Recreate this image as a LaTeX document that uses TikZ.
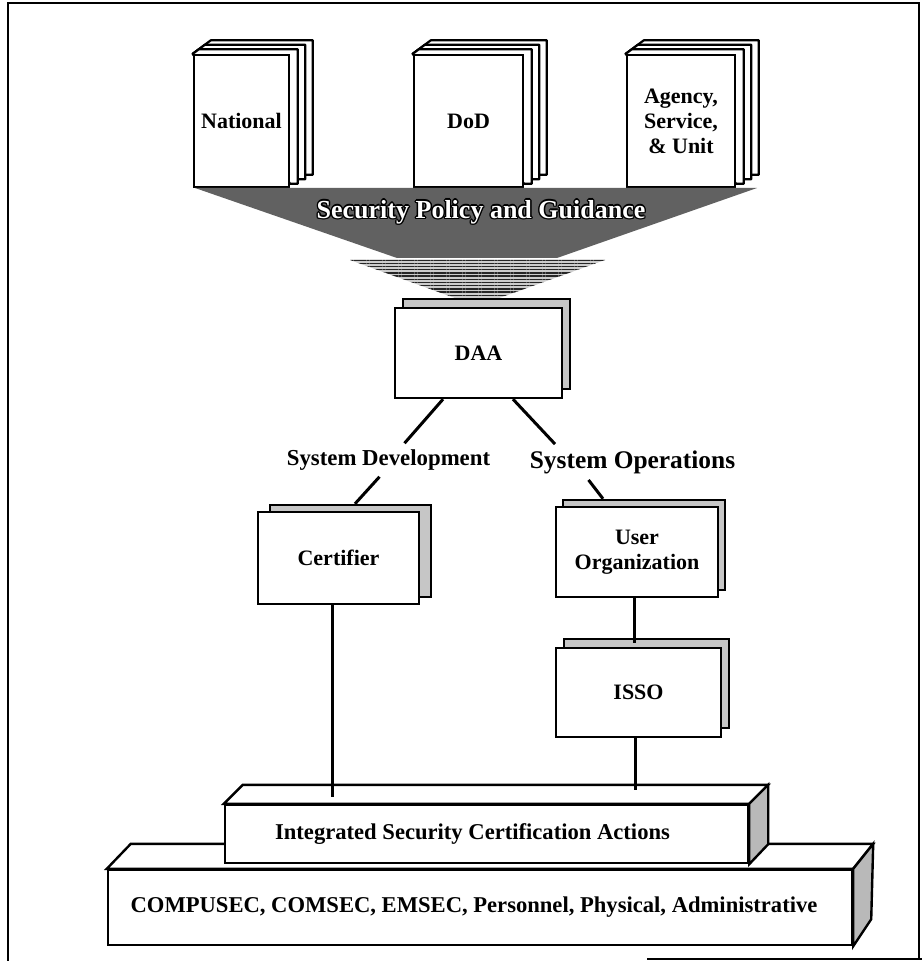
\documentclass[tikz,border=0pt]{standalone}
\usepackage{fontspec}
\setmainfont{Liberation Serif}
\usetikzlibrary{positioning, shadows, backgrounds, patterns.meta}
\tikzset{
    frame/.style={draw, line width=1pt},
    link/.style={draw, line width=1.5pt},
    box/.style={shape=rectangle, draw, fill=white, line width=1.2pt, inner sep=0pt,
        align=center, font=\fontsize{11}{12.5}\selectfont\bfseries},
    paper/.style 2 args={box, copy shadow={shadow xshift=#1, shadow yshift=#2,
        opacity=1, fill=gray!45, draw=black, line width=1pt}},
    bookface/.style={box, minimum height=66pt},
    bookpage/.style={draw, fill=white, line width=1.1pt, line join=round},
    slab/.style={box, font=\fontsize{11.3}{13}\selectfont\bfseries},
    slabside/.style={draw, fill=gray!55, line width=1.2pt},
    slabtop/.style={draw, fill=white, line width=1.2pt},
    branch/.style={font=\bfseries, inner sep=3pt}
}
% pages behind the cover of a book
\newcommand{\bookpages}[1]{%
    \begin{scope}[on background layer]
        \foreach \k in {3,2,1}
            \path[bookpage] (#1.north west) -- ([shift={(6*\k,-4.5*\k)}]#1.north west)
                -- ([shift={(7.5*\k,-4.5*\k)}]#1.north east)
                -- ([shift={(7.5*\k,-4.5*\k)}]#1.south east)
                -- ([shift={(0,-4.5*\k)}]#1.south east) -- cycle;
    \end{scope}
}

\begin{document}
\begin{tikzpicture}[x=0.5pt, y=-0.5pt]
    \useasboundingbox (0,0) rectangle (922,961);

    % outer frame
    \draw[frame] (8,961) -- (8,3) -- (919,3) -- (919,958);
    \draw[frame] (647,959) -- (922,959);

    % books
    \node [bookface, minimum width=47.5pt] at (241.5,121) (national) {National};
    \node [bookface, minimum width=54.5pt] at (468.5,121) (dod)      {DoD};
    \node [bookface, minimum width=54pt]   at (681,121)   (agency)   {Agency,\\Service,\\\& Unit};
    \bookpages{national}
    \bookpages{dod}
    \bookpages{agency}

    % funnel
    \fill[black!62] (195,188) -- (757,188) -- (557,258) -- (397,258) -- cycle;
    \fill[gray!40] (350,260) -- (605,260) -- (477,306) -- cycle;
    \path[pattern={Lines[angle=0, distance=1.6pt, line width=0.7pt]}, pattern color=black!85]
        (350,260) -- (605,260) -- (477,306) -- cycle;
    \foreach \dx/\dy [count=\i] in {0.7/0, -0.7/0, 0/0.7, 0/-0.7, 0.5/0.5, -0.5/0.5, 0.5/-0.5, -0.5/-0.5}
        \node [font=\fontsize{13}{15}\selectfont\bfseries, text=black, xshift=\dx pt, yshift=\dy pt]
            at (481,212) (spgedge\i) {Security Policy and Guidance};
    \node [font=\fontsize{13}{15}\selectfont\bfseries, text=white] at (481,212) (spg)
        {Security Policy and Guidance};

    % authority and roles
    \node [paper={4pt}{4.5pt}, minimum width=83.5pt, minimum height=45pt]   at (478.5,353) (daa)  {DAA};
    \node [branch, font=\fontsize{11.4}{13}\selectfont\bfseries] at (388.5,460) (sysdev) {System Development};
    \node [branch, font=\fontsize{12.7}{14}\selectfont\bfseries] at (632.5,462) (sysops) {System Operations};
    \node [paper={6pt}{3.5pt}, minimum width=80.5pt, minimum height=46pt]   at (338.5,558) (cert) {Certifier};
    \node [paper={3.5pt}{3.5pt}, minimum width=81pt, minimum height=45pt]   at (637,552)   (uo)   {User\\Organization};
    \node [paper={4pt}{4.5pt}, minimum width=82.5pt, minimum height=44.5pt] at (638.5,692.5) (isso) {ISSO};

    % slabs
    \node [slab, minimum width=372pt, minimum height=37.5pt] at (480,907.5) (base)
        {COMPUSEC, COMSEC, EMSEC, Personnel, Physical, Administrative\kern6pt};
    \path[slabtop]  (base.north west) -- ++(24,-25) -- ([shift={(20,-25)}]base.north east) -- (base.north east) -- cycle;
    \path[slabside] (base.north east) -- ++(20,-25) -- ([shift={(18,-27)}]base.south east) -- (base.south east) -- cycle;
    \node [slab, minimum width=261.5pt, minimum height=29pt] at (486.5,834) (ica)
        {Integrated Security Certification Actions\kern14pt};
    \path[slabtop]  (ica.north west) -- ++(19,-19) -- ([shift={(19,-19)}]ica.north east) -- (ica.north east) -- cycle;
    \path[slabside] (ica.north east) -- ++(19,-19) -- ([shift={(19,-20)}]ica.south east) -- (ica.south east) -- cycle;
    \coordinate (certfoot) at (332,797);
    \coordinate (issofoot) at (635,790);

    % connectors
    \begin{scope}[link]
        \draw ([xshift=-17.75pt]daa.south) -- ([xshift=8pt]sysdev.north);
        \draw ([xshift=17.25pt]daa.south)  -- ([xshift=-38.75pt]sysops.north);
        \draw ([xshift=-4.5pt]sysdev.south) -- ([xshift=8.25pt, yshift=3.5pt]cert.north);
        \draw ([xshift=-22pt]sysops.south) -- ([xshift=-17pt, yshift=3.5pt]uo.north);
        \draw ([xshift=-1.5pt]uo.south) -- ([xshift=-2.25pt, yshift=2pt]isso.north);
        \draw (cert.south -| certfoot) -- (certfoot);
        \draw (isso.south -| issofoot) -- (issofoot);
    \end{scope}
\end{tikzpicture}
\end{document}
